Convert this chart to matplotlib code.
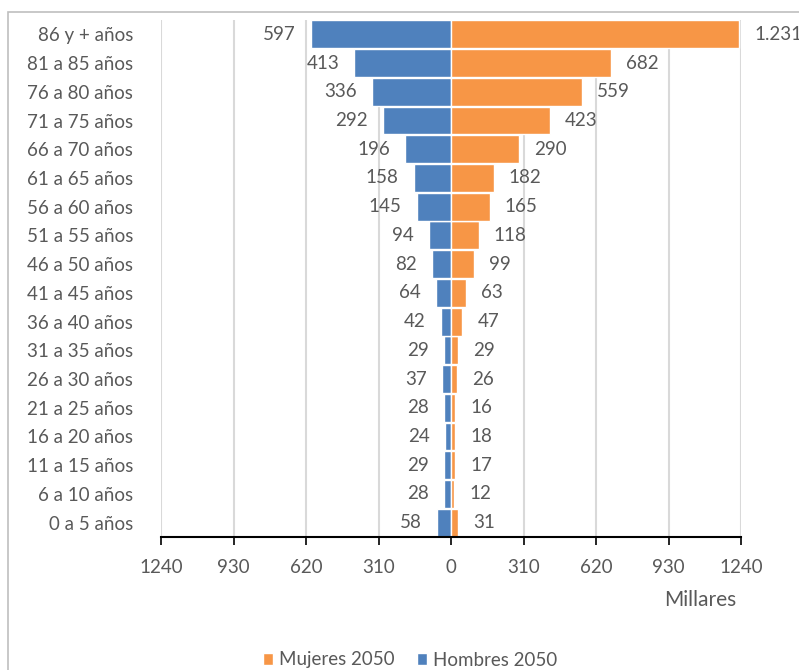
import matplotlib
matplotlib.use("Agg")
import matplotlib.pyplot as plt
from matplotlib.patches import Rectangle

plt.rcParams['font.family'] = ['Lato', 'DejaVu Sans']
FS = 13.5

categories = ["0 a 5 años", "6 a 10 años", "11 a 15 años", "16 a 20 años", "21 a 25 años",
              "26 a 30 años", "31 a 35 años", "36 a 40 años", "41 a 45 años", "46 a 50 años",
              "51 a 55 años", "56 a 60 años", "61 a 65 años", "66 a 70 años", "71 a 75 años",
              "76 a 80 años", "81 a 85 años", "86 y + años"]
hombres = [58, 28, 29, 24, 28, 37, 29, 42, 64, 82, 94, 145, 158, 196, 292, 336, 413, 597]
mujeres = [31, 12, 17, 18, 16, 26, 29, 47, 63, 99, 118, 165, 182, 290, 423, 559, 682, 1231]
xticks = [-1240, -930, -620, -310, 0, 310, 620, 930, 1240]
xticklabels = ["1240", "930", "620", "310", "0", "310", "620", "930", "1240"]

BLUE = "#4F81BD"
ORANGE = "#F79646"
GRAY = "#595959"

def fmt(v):
    return f"{v:,}".replace(",", ".")

fig = plt.figure(figsize=(7.99, 6.70), dpi=100)
fig.patches.append(Rectangle((8/799, -0.1), 1.0, 1 - 12/670 + 0.1, transform=fig.transFigure,
                             fill=False, edgecolor="#BFBFBF", linewidth=1.2))
ax = fig.add_axes([161/799, 1 - 537/670, 580/799, 517/670])

y = list(range(len(categories)))
bh = ax.barh(y, [-v for v in hombres], height=0.97, color=BLUE, edgecolor="white",
             linewidth=1.0, zorder=3, label="Hombres 2050")
bm = ax.barh(y, mujeres, height=0.97, color=ORANGE, edgecolor="white",
             linewidth=1.0, zorder=3, label="Mujeres 2050")

ax.bar_label(bh, labels=[fmt(v) for v in hombres], padding=11, fontsize=FS, color=GRAY)
ax.bar_label(bm, labels=[fmt(v) for v in mujeres], padding=11, fontsize=FS, color=GRAY)

ax.set_xlim(-1240, 1240)
ax.set_ylim(-0.5, len(categories) - 0.5)
ax.set_xticks(xticks)
ax.set_xticklabels(xticklabels)
ax.set_yticks(y)
ax.set_yticklabels(categories)
ax.tick_params(axis='x', direction='out', length=6, width=1.2, color='black',
               labelsize=FS, labelcolor=GRAY, pad=10)
ax.tick_params(axis='y', length=0, labelsize=FS, labelcolor=GRAY, pad=20)
ax.xaxis.grid(True, color="#D9D9D9", linewidth=1.5, zorder=0)
ax.set_axisbelow(True)
for s in ['top', 'right', 'left']:
    ax.spines[s].set_visible(False)
ax.spines['bottom'].set_color('black')
ax.spines['bottom'].set_linewidth(1.5)
ax.spines['bottom'].set_zorder(4)

fig.text(700/799, 1 - 600/670, "Millares", ha='center', va='center', fontsize=15, color=GRAY)

handles = [bm, bh]
fig.legend(handles, ["Mujeres 2050", "Hombres 2050"], loc='center', bbox_to_anchor=(410/799, 1 - 660/670),
           ncol=2, frameon=False, fontsize=13.5, labelcolor=GRAY, handlelength=0.55, handleheight=0.55,
           handletextpad=0.3, columnspacing=1.2)

fig.savefig("out.png", dpi=100)
